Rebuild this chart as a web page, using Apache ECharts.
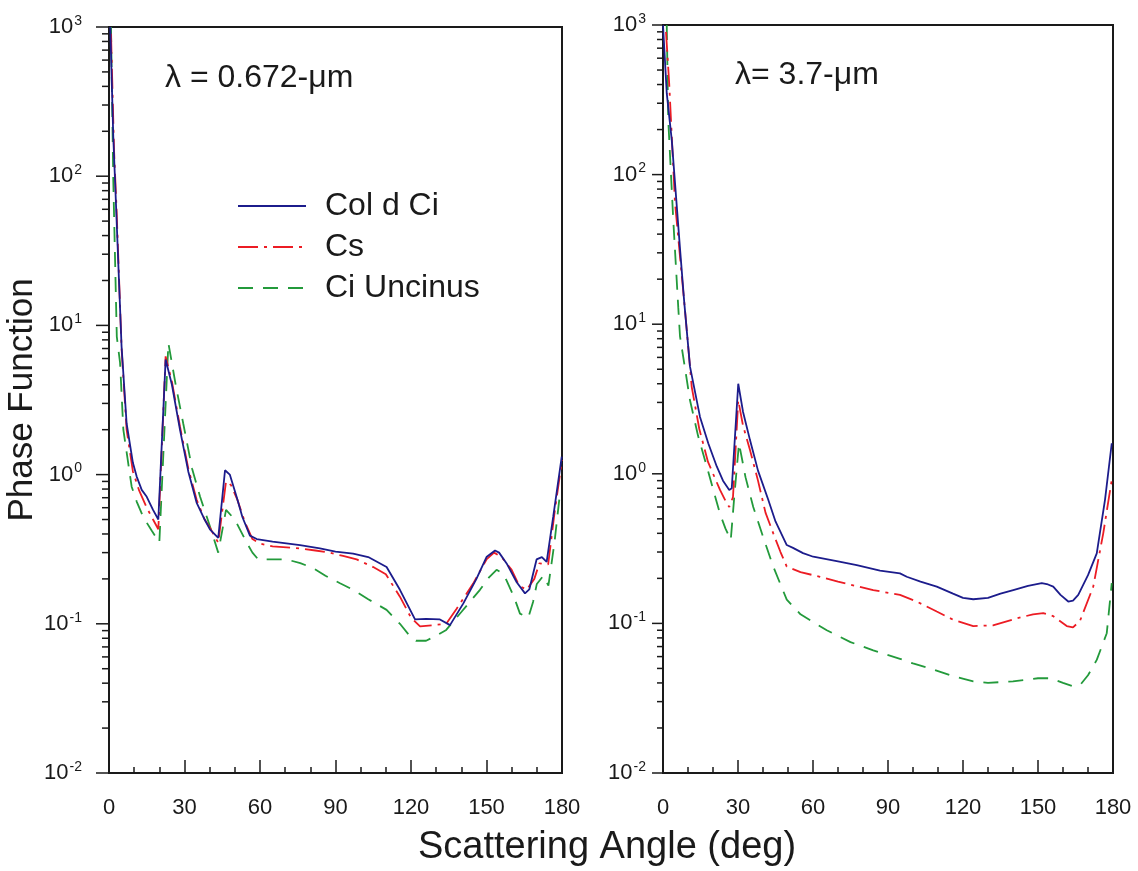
<!DOCTYPE html>
<html>
<head>
<meta charset="utf-8">
<title>Phase Function</title>
<script src="https://cdn.jsdelivr.net/npm/echarts@6/dist/echarts.min.js"></script>
<style>
  html, body { margin: 0; padding: 0; background: #fff; }
  #chart { width: 1138px; height: 871px; }
</style>
</head>
<body>
<div id="chart"></div>
<script>
// series names
const seriesNames = ['Col d Ci', 'Cs', 'Ci Uncinus']

// [angle (deg), phase function], lambda = 0.672 um
const shortColdCi = [[0.5,1000],[1.7,184],[2.4,94],[5,7.2],[7,2.2],[9.5,1.2],[11,0.97],[13,0.79],[15,0.71],[17.5,0.58],[19.6,0.5],[22.5,5.9],[25,4.0],[28.2,2.0],[31.5,1.05],[34.8,0.65],[38,0.5],[40.1,0.43],[43.4,0.376],[46.1,1.07],[48,1.0],[50.7,0.71],[53,0.52],[56,0.39],[58.7,0.37],[65,0.355],[75.9,0.337],[83.8,0.32],[90,0.305],[97,0.295],[103,0.28],[110.3,0.24],[115.6,0.169],[121.6,0.107],[126,0.108],[131.5,0.107],[135.5,0.098],[140.8,0.137],[146,0.2],[150,0.28],[153.4,0.31],[155,0.3],[158,0.254],[162,0.19],[165.3,0.16],[167,0.17],[169.9,0.27],[172,0.28],[173.9,0.26],[176.5,0.52],[179.9,1.32]]
const shortCs = [[0.8,900],[2,150],[3,60],[5,7],[7,2.0],[9.5,1.05],[12,0.78],[15,0.6],[17.5,0.5],[19.6,0.43],[22.5,6.2],[25,4.2],[28.2,2.1],[31.5,1.1],[34.8,0.68],[38,0.5],[40.1,0.44],[43.4,0.35],[46.5,0.9],[48.5,0.85],[51,0.68],[54,0.48],[57,0.37],[60,0.345],[65,0.33],[76,0.32],[82,0.31],[87.8,0.3],[93,0.285],[98.4,0.27],[105,0.24],[110,0.215],[115.6,0.152],[120,0.11],[123.6,0.096],[129,0.098],[134,0.1],[138,0.125],[144.7,0.186],[150,0.27],[153,0.3],[156,0.28],[160,0.23],[163,0.18],[166,0.169],[169,0.2],[171,0.254],[174.5,0.25],[177,0.55],[180,1.25]]
const shortUncinus = [[0.8,1000],[1.7,94],[3.1,8.4],[4.4,5.6],[5.7,2.0],[9,0.83],[11,0.66],[13.6,0.52],[17,0.42],[20,0.35],[23.6,7.6],[26.5,4.0],[29.5,2.2],[33,1.1],[36.2,0.71],[40.1,0.45],[43.4,0.3],[46.5,0.58],[50,0.5],[54.7,0.35],[57,0.3],[59.3,0.27],[65,0.27],[70.6,0.27],[76,0.255],[81.2,0.236],[86,0.21],[91.8,0.187],[97,0.169],[103,0.146],[110.3,0.124],[115.6,0.1],[119,0.085],[122,0.077],[126,0.077],[130,0.083],[134,0.091],[140,0.12],[147.4,0.169],[151,0.205],[154,0.23],[156,0.22],[158,0.195],[161,0.15],[163.3,0.117],[166.6,0.11],[168.5,0.14],[170,0.185],[172.6,0.21],[174.6,0.18],[177,0.35],[179.2,0.75]]

// lambda = 3.7 um
const longColdCi = [[0,1000],[1.5,350],[3.5,170],[6.8,32],[8.5,14],[10.8,5.2],[14.8,2.4],[18.1,1.6],[21.5,1.12],[24,0.9],[26.5,0.78],[27.5,0.8],[30.1,4.0],[32,2.6],[34.8,1.68],[38,1.05],[42.1,0.67],[45,0.48],[49.5,0.334],[52,0.32],[56,0.295],[60.1,0.279],[70,0.26],[77.5,0.245],[86.8,0.225],[94.8,0.216],[97.5,0.205],[103,0.19],[109.5,0.176],[116,0.158],[120,0.148],[124.1,0.145],[130,0.148],[135,0.158],[140.1,0.167],[146,0.178],[151.5,0.186],[154,0.182],[156.1,0.176],[159,0.155],[162.1,0.14],[164,0.142],[166.1,0.155],[170,0.21],[173.5,0.294],[176.8,0.67],[179.5,1.6]]
const longCs = [[1.2,900],[2.5,400],[4.8,65],[8.8,12.4],[11.5,3.8],[14.5,2.0],[18,1.2],[22.8,0.78],[25,0.66],[26.5,0.6],[28,0.7],[30.1,3.1],[32,2.1],[34.8,1.44],[38,0.9],[41,0.55],[44.1,0.4],[47,0.3],[49.5,0.24],[55,0.22],[62.8,0.205],[70,0.19],[77,0.178],[84.1,0.167],[94.8,0.155],[101.5,0.14],[109.5,0.12],[116,0.106],[124.1,0.096],[132,0.097],[141.5,0.108],[148,0.115],[152.1,0.117],[156,0.112],[161.5,0.096],[164,0.094],[166.8,0.104],[172.1,0.176],[176.1,0.4],[179.5,0.91]]
const longUncinus = [[1.5,1000],[2.1,232],[4.1,50],[6.1,13],[6.8,8.3],[10.8,3.1],[14,1.8],[17.5,1.12],[22.8,0.54],[25,0.43],[27.1,0.36],[28.5,0.7],[30.4,1.6],[33,0.95],[36.1,0.6],[40,0.38],[44.1,0.24],[49.5,0.144],[55,0.115],[65.5,0.09],[75,0.075],[84.1,0.066],[94.8,0.058],[100,0.054],[106.8,0.05],[115,0.045],[124.1,0.041],[130,0.04],[140,0.041],[150,0.043],[155,0.043],[160,0.04],[164,0.038],[167,0.039],[170,0.045],[173.5,0.057],[177.5,0.086],[179.5,0.186]]

// y ticks: decades and 2..9 x 10^n between them
const majorTicks = [0.01, 0.1, 1, 10, 100, 1000]
const minorTicks = []
for (let e = -2; e < 3; e++) {
  for (let k = 2; k <= 9; k++) minorTicks.push(k * Math.pow(10, e))
}

const FONT = 'Liberation Sans, Arial, sans-serif'
const INK = '#1a1a1a'
const colors = ['#1c1c8c', '#ec1c24', '#239a3b']
const dashes = ['solid', [20, 6, 3, 6], [15, 10]]

function powLabel(v) {
  const e = Math.round(Math.log10(v))
  return '{b|10}{s|' + e + '}'
}

function xAxisFor(gridIndex) {
  return {
    gridIndex,
    type: 'value',
    min: 0,
    max: 180,
    interval: 30,
    axisLine: { lineStyle: { color: INK, width: 2 } },
    axisTick: { inside: true, length: 13, lineStyle: { color: INK, width: 1.5 } },
    minorTick: { show: true, splitNumber: 3, length: 6, lineStyle: { color: INK, width: 1.5 } },
    axisLabel: { fontSize: 22, color: INK, fontFamily: FONT, margin: 24 },
    splitLine: { show: false }
  }
}

function yAxisFor(gridIndex, margin, name) {
  return {
    gridIndex,
    type: 'log',
    logBase: 10,
    min: 0.01,
    max: 1000,
    position: 'left',
    name: name || '',
    nameLocation: 'middle',
    nameGap: 62,
    nameRotate: 90,
    nameTextStyle: { fontSize: 35, color: INK, fontFamily: FONT },
    axisLine: { show: true, lineStyle: { color: INK, width: 2 } },
    axisTick: { show: false },
    axisLabel: {
      margin,
      formatter: powLabel,
      rich: {
        b: { fontSize: 22, color: INK, fontFamily: FONT },
        s: { fontSize: 14, color: INK, fontFamily: FONT, padding: [0, 0, 12, 1] }
      }
    },
    splitLine: { show: false }
  }
}

function line(name, data, i, xi, yi) {
  return {
    name,
    type: 'line',
    xAxisIndex: xi,
    yAxisIndex: yi,
    data,
    symbol: 'none',
    lineStyle: { color: colors[i], width: 1.8, type: dashes[i] },
    itemStyle: { color: colors[i] },
    z: 3 - i
  }
}

const texts = [
  { type: 'text', x: 165, y: 78, style: { text: 'λ = 0.672-μm', fontSize: 32, fill: INK, fontFamily: FONT, textVerticalAlign: 'middle' } },
  { type: 'text', x: 735, y: 75, style: { text: 'λ= 3.7-μm', fontSize: 32, fill: INK, fontFamily: FONT, textVerticalAlign: 'middle' } },
  { type: 'text', x: 607, y: 848, style: { text: 'Scattering Angle (deg)', fontSize: 38, fill: INK, fontFamily: FONT, textAlign: 'center', textVerticalAlign: 'middle' } }
]

const chart = echarts.init(document.getElementById('chart'))
chart.setOption({
  animation: false,
  backgroundColor: '#fff',
  grid: [
    { left: 109, right: 576, top: 27, bottom: 98, outerBoundsMode: 'none', show: true, borderColor: INK, borderWidth: 2 },
    { left: 663, right: 25, top: 25, bottom: 98, outerBoundsMode: 'none', show: true, borderColor: INK, borderWidth: 2 }
  ],
  xAxis: [xAxisFor(0), xAxisFor(1)],
  yAxis: [
    yAxisFor(0, 27, 'Phase Function'),
    yAxisFor(1, 17)
  ],
  legend: {
    data: seriesNames,
    orient: 'vertical',
    left: 232,
    top: 185,
    itemWidth: 68,
    itemHeight: 14,
    itemGap: 9,
    itemStyle: { color: 'transparent', borderWidth: 0 },
    textStyle: { fontSize: 32, color: INK, fontFamily: FONT, padding: [0, 0, 0, 14] },
    selectedMode: false
  },
  graphic: texts,
  series: [
    line(seriesNames[0], shortColdCi, 0, 0, 0),
    line(seriesNames[1], shortCs, 1, 0, 0),
    line(seriesNames[2], shortUncinus, 2, 0, 0),
    line(seriesNames[0], longColdCi, 0, 1, 1),
    line(seriesNames[1], longCs, 1, 1, 1),
    line(seriesNames[2], longUncinus, 2, 1, 1)
  ]
})

// outward y ticks placed through the log axes' own scale
function yTicks(axisIndex, majorLen, minorLen) {
  const x0 = chart.convertToPixel({ xAxisIndex: axisIndex }, 0)
  const out = []
  const add = (v, len) => {
    const y = chart.convertToPixel({ yAxisIndex: axisIndex }, v)
    out.push({ type: 'line', shape: { x1: x0 - len, y1: y, x2: x0, y2: y }, style: { stroke: INK, lineWidth: 1.5 }, z: 10 })
  }
  majorTicks.forEach(v => add(v, majorLen))
  minorTicks.forEach(v => add(v, minorLen))
  return out
}

chart.setOption({ graphic: texts.concat(yTicks(0, 13, 7), yTicks(1, 11, 6)) })
</script>
</body>
</html>
